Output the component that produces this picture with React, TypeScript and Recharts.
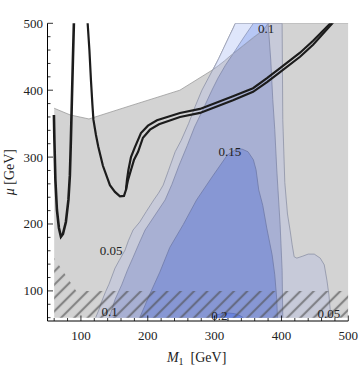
import { ComposedChart, Area, Line, XAxis, YAxis, ReferenceDot } from 'recharts'

type Pt = [number, number]
type Band = [number, number, number]

const xTicks = [60, 80, 100, 120, 140, 160, 180, 200, 220, 240, 260, 280, 300, 320, 340, 360, 380, 400, 420, 440, 460, 480, 500]
const yTicks = [60, 80, 100, 120, 140, 160, 180, 200, 220, 240, 260, 280, 300, 320, 340, 360, 380, 400, 420, 440, 460, 480, 500]

// top edge of the grey (shaded) part of the plane, M1 vs mu
const greyEdge: Pt[] = [
  [60, 373], [84, 363], [112, 357], [178, 378], [248, 400], [298, 431],
  [328, 455], [373, 490], [380, 500], [500, 500],
]

// superlevel sets of the contour plot (upper edge, M1 ascending)
const level05: Pt[] = [
  [122, 60], [127, 72], [131, 84], [137, 99], [142, 110], [151, 134], [157, 145],
  [166, 161], [171, 175], [178, 191], [188, 203], [198, 219], [209, 236], [216, 246],
  [223, 258], [231, 280], [241, 308], [250, 325], [261, 350], [271, 376], [281, 400],
  [290, 417], [298, 432], [306, 447], [315, 466], [323, 483], [331, 500],
  [401, 500], [402, 356], [405, 262], [409, 215], [413, 190], [416, 169], [419, 151],
  [423, 149], [432, 152], [440, 155], [449, 155], [458, 149], [464, 139], [468, 116],
  [471, 94], [474, 60],
]
const level10: Pt[] = [
  [142, 60], [147, 74], [151, 87], [156, 98], [161, 109], [170, 132], [178, 150],
  [187, 171], [196, 191], [206, 206], [216, 221], [226, 236], [236, 259], [247, 288],
  [259, 317], [270, 345], [283, 372], [296, 400], [305, 418], [316, 437], [328, 455],
  [343, 478], [358, 500], [380, 500], [384, 445], [387, 386], [390, 341], [393, 281],
  [398, 199], [401, 131], [402, 60],
]
const level15: Pt[] = [
  [188, 60], [203, 95], [218, 128], [233, 165], [253, 199], [273, 236], [296, 270],
  [319, 303], [331, 311], [341, 312], [350, 308], [358, 296], [362, 281], [366, 251],
  [372, 228], [378, 194], [386, 154], [390, 124], [393, 87], [394, 60],
]
const level20: Pt[] = [
  [296, 60], [303, 64], [312, 66.5], [320, 67], [330, 66], [338, 63], [343, 60],
]

// above the grey edge the unshaded contour colours show: [M1, low, high]
const wedge05: Band[] = [
  [298, 431, 431], [306, 437, 447], [315, 444, 466], [323, 451, 483], [328, 455, 493],
  [331, 457, 500], [350, 472, 500], [373, 490, 500], [380, 500, 500],
]
const wedge10: Band[] = [
  [328, 455, 455], [343, 467, 478], [358, 479, 500], [373, 490, 500], [380, 500, 500],
]

// hatched (excluded) strip at low mu
const hatchEdge: Pt[] = [[60, 149], [93, 100], [500, 100]]

// black contour curves
const curveLeft: Pt[] = [
  [59.6, 363], [60.3, 326], [61.8, 266], [64.1, 221], [67.1, 194], [70.1, 181],
  [73.1, 185], [77.5, 203], [81.3, 236], [83.5, 273], [85, 326], [86.5, 386],
  [88, 445], [89.5, 501],
]
const curveTrough: Pt[] = [
  [110, 501], [112.7, 460], [115, 415], [117.2, 378], [118.7, 356], [122.5, 333],
  [125.9, 316], [132.9, 287], [143.4, 258], [150.9, 248], [158.4, 241.3], [164.4, 242],
  [167.4, 251], [168.9, 266], [171.1, 281],
]
const curveUpper: Pt[] = [
  [174.9, 300], [180.8, 315], [189.8, 336], [200.3, 347], [213.8, 355], [248.2, 366],
  [278.1, 372], [327.5, 391], [357.5, 403], [378.4, 418], [397.9, 433], [427.8, 456],
  [447.3, 474], [474.3, 501],
]
const curveLower: Pt[] = [
  [167.4, 251], [170.5, 266], [175, 281], [179.5, 296], [185.5, 308], [192.8, 329],
  [203.3, 341], [216.8, 349], [248.2, 360], [278.1, 366], [327.5, 385], [357.5, 397.5],
  [378.4, 412], [397.9, 427], [427.8, 450], [447.3, 468], [477.2, 501],
]

const contourLabels = ['0.1', '0.15', '0.05', '0.1', '0.2', '0.05']
const labelM1 = [377, 323, 145, 143, 307, 471]
const labelMu = [493, 308, 161, 70, 63, 67]

const rows = (pts: Pt[]) => pts.map(([x, y]) => ({ x, y }))
const rangeRows = (pts: Band[]) => pts.map(([x, lo, hi]) => ({ x, y: [lo, hi] }))

const serif = 'Liberation Serif, serif'

function tickFor(side: 'bottom' | 'top' | 'left' | 'right') {
  return (props: any) => {
    const { x, y, payload } = props
    const v = payload.value
    const major = v % 100 === 0
    const len = major ? 5.5 : 3
    let x2 = x
    let y2 = y
    if (side === 'bottom') y2 = y - len
    if (side === 'top') y2 = y + len
    if (side === 'left') x2 = x + len
    if (side === 'right') x2 = x - len
    return (
      <g>
        <line x1={x} y1={y} x2={x2} y2={y2} stroke="#000" strokeWidth={0.8} />
        {major && side === 'bottom' && (
          <text x={x} y={y + 18.5} textAnchor="middle" fontSize={13} fontFamily={serif} fill="#222">
            {v}
          </text>
        )}
        {major && side === 'left' && (
          <text x={x - 4.5} y={y + 4.5} textAnchor="end" fontSize={13} fontFamily={serif} fill="#222">
            {v}
          </text>
        )}
      </g>
    )
  }
}

function XTitle({ viewBox }: any) {
  const cx = viewBox.x + viewBox.width / 2
  return (
    <text x={cx - 31} y={viewBox.y + 41} fontSize={14} fontFamily={serif} fill="#222">
      <tspan fontStyle="italic">M</tspan>
      <tspan fontSize={10} dy={3}>1</tspan>
      <tspan dy={-3}>{'\u00a0\u00a0[GeV]'}</tspan>
    </text>
  )
}

function YTitle({ viewBox }: any) {
  const cx = viewBox.x + 14.5
  const cy = viewBox.y + viewBox.height / 2
  return (
    <text x={cx} y={cy} transform={`rotate(-90 ${cx} ${cy})`} textAnchor="middle" fontSize={14} fontFamily={serif} fill="#222">
      <tspan fontStyle="italic">μ</tspan>
      <tspan>{'\u00a0[GeV]'}</tspan>
    </text>
  )
}

export default function App() {
  const area = (data: any[], fill: string, stroke: string) => (
    <Area
      data={data}
      dataKey="y"
      type="linear"
      baseValue={60}
      fill={fill}
      fillOpacity={1}
      stroke={stroke}
      strokeWidth={0.8}
      dot={false}
      activeDot={false}
      isAnimationActive={false}
    />
  )
  const curve = (pts: Pt[], width: number) => (
    <Line
      data={rows(pts)}
      dataKey="y"
      type="linear"
      stroke="#1c1c1c"
      strokeWidth={width}
      dot={false}
      activeDot={false}
      isAnimationActive={false}
    />
  )

  return (
    <div style={{ position: 'absolute', left: 0, top: 0 }}>
      <ComposedChart width={360} height={374} margin={{ top: 23.3, right: 11.7, bottom: 23, left: 0 }}>
        <defs>
          <pattern id="hatch" patternUnits="userSpaceOnUse" width={9.4} height={9.4} patternTransform="rotate(45)">
            <line x1={4.7} y1={0} x2={4.7} y2={9.4} stroke="rgba(80,80,80,0.6)" strokeWidth={2.2} />
          </pattern>
        </defs>
        <XAxis
          type="number"
          dataKey="x"
          domain={[50, 500]}
          ticks={xTicks}
          interval={0}
          allowDataOverflow
          height={30}
          tickSize={0}
          tickMargin={0}
          tickLine={false}
          axisLine={{ stroke: '#000', strokeWidth: 1 }}
          tick={tickFor('bottom')}
          label={<XTitle />}
        />
        <XAxis
          xAxisId="top"
          orientation="top"
          type="number"
          dataKey="x"
          domain={[50, 500]}
          ticks={xTicks}
          interval={0}
          allowDataOverflow
          height={0}
          tickSize={0}
          tickMargin={0}
          tickLine={false}
          axisLine={{ stroke: '#000', strokeWidth: 1 }}
          tick={tickFor('top')}
        />
        <YAxis
          type="number"
          domain={[55, 500]}
          ticks={yTicks}
          interval={0}
          allowDataOverflow
          width={47.5}
          tickSize={0}
          tickMargin={0}
          tickLine={false}
          axisLine={{ stroke: '#000', strokeWidth: 1 }}
          tick={tickFor('left')}
          label={<YTitle />}
        />
        <YAxis
          yAxisId="right"
          orientation="right"
          type="number"
          domain={[55, 500]}
          ticks={yTicks}
          interval={0}
          allowDataOverflow
          width={0}
          tickSize={0}
          tickMargin={0}
          tickLine={false}
          axisLine={{ stroke: '#000', strokeWidth: 1 }}
          tick={tickFor('right')}
        />

        {area(rows(greyEdge), '#d3d3d3', '#9a9a9a')}
        {area(rows(level05), '#c7cad9', '#8d92a6')}
        {area(rows(level10), '#a8b0d3', '#8088a8')}
        {area(rows(level15), '#8797d4', '#6f7aa8')}
        {area(rows(level20), '#6a84de', '#5a6fb8')}
        {area(rangeRows(wedge05), '#dfe6fb', '#9aa0b4')}
        {area(rangeRows(wedge10), '#b7c7f5', '#8c96b8')}
        <Area
          data={rows(hatchEdge)}
          dataKey="y"
          type="linear"
          baseValue={60}
          fill="url(#hatch)"
          fillOpacity={1}
          stroke="none"
          dot={false}
          activeDot={false}
          isAnimationActive={false}
        />

        {curve(curveLeft, 2.6)}
        {curve([...curveTrough, ...curveUpper], 2.2)}
        {curve(curveLower, 2.2)}

        {contourLabels.map((t, i) => (
          <ReferenceDot
            key={i}
            x={labelM1[i]}
            y={labelMu[i]}
            r={0}
            fill="none"
            stroke="none"
            label={{ value: t, position: 'center', fill: '#222', fontSize: 13, fontFamily: serif }}
          />
        ))}
      </ComposedChart>
    </div>
  )
}
